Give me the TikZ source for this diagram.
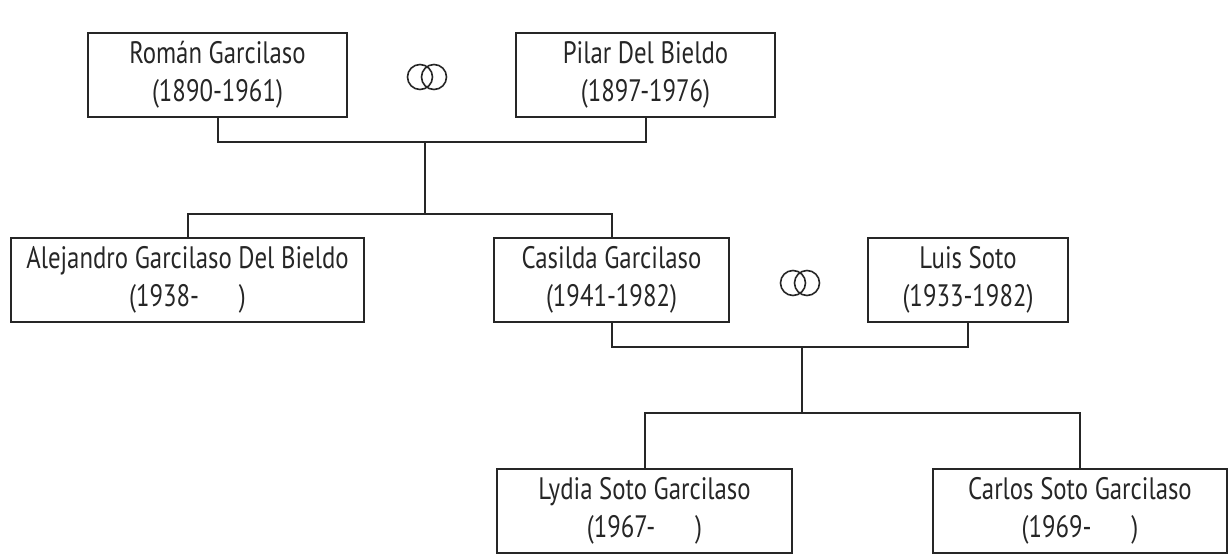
\documentclass[tikz,border=0pt]{standalone}
\usepackage{fontspec}
\setmainfont[FakeStretch=0.8]{PT Sans}
\usetikzlibrary{positioning}
\definecolor{ink}{HTML}{262626}

\tikzset{
  person/.style={draw=ink, line width=2pt, text=ink, align=center, inner sep=0pt,
    minimum height=84pt, font=\fontsize{31}{38}\selectfont},
  link/.style={draw=ink, line width=2pt},
  rings/.style={draw=ink, line width=1.6pt}
}

\begin{document}
\begin{tikzpicture}[x=1pt, y=-1pt]
\useasboundingbox (0,0) rectangle (1231,555);
\node[person, minimum width=259pt] (roman) at (217.5,75) {Román Garcilaso\\(1890-1961)};
\node[person, minimum width=259pt] (pilar) at (645.5,75) {Pilar Del Bieldo\\(1897-1976)};
\node[person, minimum width=353pt] (alejandro) at (187.5,280) {Alejandro Garcilaso Del Bieldo\\(1938-\hspace{40pt})};
\node[person, minimum width=235pt] (casilda) at (611.5,280) {Casilda Garcilaso\\(1941-1982)};
\node[person, minimum width=200pt] (luis) at (968,280) {Luis Soto\\(1933-1982)};
\node[person, minimum width=295pt] (lydia) at (644.5,510.5) {Lydia Soto Garcilaso\\(1967-\hspace{40pt})};
\node[person, minimum width=294pt] (carlos) at (1080,510.5) {Carlos Soto Garcilaso\\(1969-\hspace{40pt})};

\coordinate (m1) at (427,77);
\coordinate (m2) at (800,283);
\coordinate (jn1) at (425,142);
\coordinate (br1) at (425,214);
\coordinate (jn2) at (802,347);
\coordinate (br2) at (802,413);

\draw[rings] (m1) ++(-7,0) circle (12.5) (m1) ++(7,0) circle (12.5);
\draw[rings] (m2) ++(-7,0) circle (12.5) (m2) ++(7,0) circle (12.5);

\draw[link] (roman.south) |- (jn1) -| (pilar.south);
\draw[link] (jn1) -- (br1);
\draw[link] (alejandro.north) |- (br1) -| (casilda.north);
\draw[link] (casilda.south) |- (jn2) -| (luis.south);
\draw[link] (jn2) -- (br2);
\draw[link] (lydia.north) |- (br2) -| (carlos.north);
\end{tikzpicture}
\end{document}
